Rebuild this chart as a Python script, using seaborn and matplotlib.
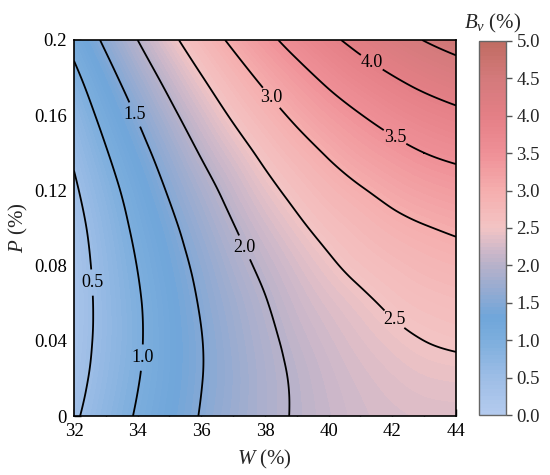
import matplotlib
matplotlib.use("Agg")
import matplotlib.pyplot as plt
import matplotlib.tri as mtri
import numpy as np
import pandas as pd
import seaborn as sns
from matplotlib.colors import LinearSegmentedColormap
from matplotlib.ticker import MultipleLocator, FixedLocator


# water content W (%) and additive P (%) of the grid
w_values = [32, 33, 34, 35, 36, 37, 38, 39, 40, 41, 42, 43, 44]
p_values = [0, 0.02, 0.04, 0.06, 0.08, 0.10, 0.12, 0.14, 0.16, 0.18, 0.20]

# Bv (%), one row per P value
bv_p000 = [0.44, 0.75, 1.04, 1.29, 1.52, 1.72, 1.89, 2.03, 2.14, 2.23, 2.28, 2.31, 2.32]
bv_p002 = [0.35, 0.68, 0.98, 1.25, 1.49, 1.70, 1.89, 2.04, 2.17, 2.27, 2.34, 2.39, 2.41]
bv_p004 = [0.30, 0.64, 0.95, 1.24, 1.49, 1.72, 1.92, 2.09, 2.23, 2.34, 2.43, 2.50, 2.54]
bv_p006 = [0.28, 0.64, 0.96, 1.26, 1.53, 1.77, 1.98, 2.17, 2.32, 2.44, 2.55, 2.63, 2.68]
bv_p008 = [0.30, 0.67, 1.01, 1.32, 1.60, 1.86, 2.08, 2.28, 2.45, 2.59, 2.70, 2.79, 2.85]
bv_p010 = [0.35, 0.73, 1.09, 1.41, 1.71, 1.98, 2.22, 2.43, 2.61, 2.76, 2.89, 2.98, 3.05]
bv_p012 = [0.44, 0.83, 1.20, 1.54, 1.85, 2.13, 2.39, 2.61, 2.81, 2.97, 3.11, 3.22, 3.30]
bv_p014 = [0.56, 0.97, 1.35, 1.70, 2.03, 2.32, 2.59, 2.83, 3.04, 3.22, 3.37, 3.50, 3.59]
bv_p016 = [0.71, 1.14, 1.53, 1.90, 2.24, 2.55, 2.83, 3.08, 3.30, 3.49, 3.66, 3.80, 3.91]
bv_p018 = [0.90, 1.34, 1.75, 2.13, 2.48, 2.80, 3.09, 3.35, 3.59, 3.80, 3.98, 4.14, 4.27]
bv_p020 = [1.13, 1.58, 2.00, 2.39, 2.75, 3.08, 3.38, 3.66, 3.91, 4.13, 4.33, 4.51, 4.66]

line_levels = [0.5, 1.0, 1.5, 2.0, 2.5, 3.0, 3.5, 4.0, 4.5]
cbar_ticks = [0.0, 0.5, 1.0, 1.5, 2.0, 2.5, 3.0, 3.5, 4.0, 4.5, 5.0]
y_ticks = [0, 0.04, 0.08, 0.12, 0.16, 0.2]
y_ticklabels = ["0", "0.04", "0.08", "0.12", "0.16", "0.2"]

# where the inline labels sit (W, P)
label_spots = [(32.6, 0.071), (34.18, 0.031), (33.86, 0.160), (37.4, 0.090),
               (42.04, 0.051), (38.25, 0.170), (42.07, 0.148), (41.35, 0.188)]

grid = pd.DataFrame(
    [bv_p000, bv_p002, bv_p004, bv_p006, bv_p008, bv_p010,
     bv_p012, bv_p014, bv_p016, bv_p018, bv_p020],
    index=p_values, columns=w_values,
)

sns.set_style("ticks")
plt.rcParams["font.family"] = "Liberation Serif"
plt.rcParams["mathtext.fontset"] = "custom"
plt.rcParams["mathtext.rm"] = "Liberation Serif"
plt.rcParams["mathtext.it"] = "Liberation Serif:italic"

cmap = LinearSegmentedColormap.from_list("bv", [
    (0.00, "#b4cbee"), (0.10, "#9dbde6"), (0.20, "#7caedd"), (0.26, "#70a6da"),
    (0.32, "#8eaad3"), (0.40, "#b7b1ca"), (0.46, "#dabcc8"), (0.50, "#f3c4c4"),
    (0.60, "#f5aeae"), (0.70, "#ef9097"), (0.80, "#e47f86"), (0.90, "#d47a7c"),
    (1.00, "#c06c62"),
])

fig = plt.figure(figsize=(5.5, 4.75), dpi=100)
ax = fig.add_axes([0.1345, 0.1242, 0.6945, 0.7916])
cax = fig.add_axes([0.871, 0.1263, 0.049, 0.7874])

# smooth the read grid with matplotlib's cubic triangle refiner
W, P = np.meshgrid(grid.columns.values, grid.index.values)
p_scale = 60.0
tri = mtri.Triangulation(W.ravel(), P.ravel() * p_scale)
fine_tri, fine_z = mtri.UniformTriRefiner(tri).refine_field(grid.values.ravel(), subdiv=4)
fine_tri = mtri.Triangulation(fine_tri.x, fine_tri.y / p_scale, fine_tri.triangles)

cf = ax.tricontourf(fine_tri, fine_z, levels=np.linspace(0, 5, 101), cmap=cmap,
                    vmin=0, vmax=5)
cs = ax.tricontour(fine_tri, fine_z, levels=line_levels, colors="black", linewidths=1.3)
texts = ax.clabel(cs, levels=line_levels[:-1], fmt="%.1f", fontsize=13,
                  inline=True, inline_spacing=2, manual=label_spots)
for t in texts:
    t.set_rotation(0)

ax.set_xlim(32, 44)
ax.set_ylim(0, 0.2)
ax.xaxis.set_major_locator(MultipleLocator(2))
ax.xaxis.set_minor_locator(MultipleLocator(1))
ax.yaxis.set_major_locator(FixedLocator(y_ticks))
ax.set_yticklabels(y_ticklabels)
ax.yaxis.set_minor_locator(MultipleLocator(0.02))
ax.tick_params(which="both", direction="in", top=False, right=False,
               labelsize=13.5, colors="black")
ax.tick_params(axis="x", pad=5)
ax.tick_params(axis="y", pad=5)
ax.tick_params(which="major", length=5, width=1)
ax.tick_params(which="minor", length=3, width=1)
for spine in ax.spines.values():
    spine.set_linewidth(1.2)
    spine.set_color("black")
ax.set_xlabel("$W$ (%)", fontsize=15, labelpad=6)
ax.set_ylabel("$P$ (%)", fontsize=15, labelpad=3)

cb = fig.colorbar(cf, cax=cax, ticks=cbar_ticks)
cb.ax.set_yticklabels([f"{v:.1f}" for v in cbar_ticks])
cb.ax.tick_params(direction="out", length=4, width=1, labelsize=13.5, color="#555555")
cb.outline.set_edgecolor("#666666")
cb.outline.set_linewidth(1)
cax.set_title("$B_v$ (%)", fontsize=15, pad=9)

fig.savefig("out.png", dpi=100)
plt.close(fig)
